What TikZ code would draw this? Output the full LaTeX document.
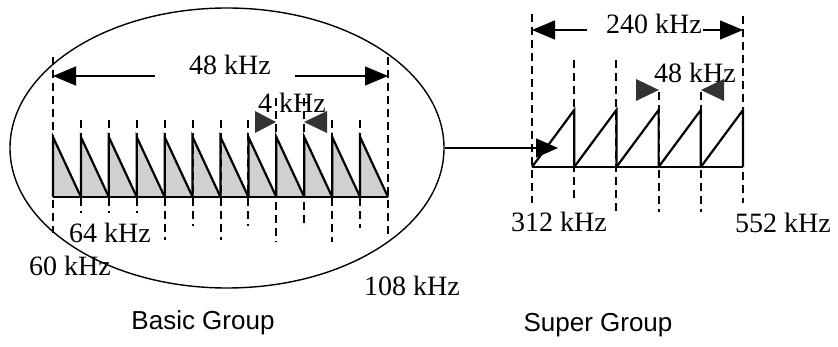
\documentclass[tikz,border=0pt]{standalone}
\usepackage{fontspec}
\setmainfont{Liberation Serif}
\setsansfont{Liberation Sans}
\usetikzlibrary{shapes.geometric,arrows.meta}
\definecolor{headcol}{HTML}{333333}
\definecolor{fillcol}{HTML}{D0D0D0}
\tikzset{
  lbl/.style={inner sep=0pt, font=\fontsize{28}{32}\selectfont},
  grp/.style={inner sep=0pt, font=\sffamily\fontsize{26}{30}\selectfont},
  dsh/.style={line width=2pt, dash pattern=on 8pt off 5pt},
  solid line/.style={line width=2.2pt},
  dimarrow/.style={line width=1.4pt, -{Triangle[length=23pt,width=19pt]}, draw=black, fill=headcol},
  headtri/.style={fill=headcol},
}
\begin{document}
\begin{tikzpicture}[x=1pt,y=-1pt]
\useasboundingbox (0,0) rectangle (838,347);
\fill[white] (0,0) rectangle (838,347);

% ---------- Basic group ----------
\node[draw, ellipse, line width=1.4pt, minimum width=434pt, minimum height=280pt, inner sep=0pt] (bg) at (227,148) {};

% triangles
\foreach \k in {0,...,11}{
  \pgfmathsetmacro{\xa}{53+27.917*\k}
  \pgfmathsetmacro{\xb}{53+27.917*(\k+1)}
  \fill[fillcol] (\xa,197) -- (\xa,137) -- (\xb,197) -- cycle;
  \draw[solid line, line join=miter] (\xa,197) -- (\xa,137) -- (\xb,197);
}
\draw[solid line] (53,197) -- (388,197);

% dashed guide lines (index, top, bottom)
\foreach \k/\t/\b in {0/57/233, 1/120/213, 2/120/213, 3/120/213, 4/120/240, 5/120/226,
                     6/120/240, 7/120/226, 8/98/242, 9/98/228, 10/120/242, 11/120/228, 12/57/237}{
  \pgfmathsetmacro{\xx}{53+27.917*\k}
  \draw[dsh] (\xx,\t) -- (\xx,\b);
}

% 48 kHz dimension
\node[lbl] (w48) at (230,65) {48 kHz};
\coordinate (w48l) at (155,76);
\coordinate (w48r) at (295,76);
\coordinate (b0) at (53,76);
\coordinate (b12) at (388,76);
\draw[dimarrow] (w48l) -- (b0);
\draw[dimarrow] (w48r) -- (b12);

% 4 kHz
\node[lbl] (w4) at (292,103) {4 kHz};
\fill[headtri] (255,111) -- (276,122) -- (255,133) -- cycle;
\fill[headtri] (327,111) -- (304,122) -- (327,133) -- cycle;

\node[lbl] (f64) at (110,233) {64 kHz};
\node[lbl] (f60) at (70,266) {60 kHz};
\node[lbl] (f108) at (412,286) {108 kHz};
\node[grp] (basic) at (203,323) {Basic Group};

% ---------- Super group ----------
\foreach \k in {0,...,4}{
  \pgfmathsetmacro{\xa}{532+42.2*\k}
  \pgfmathsetmacro{\xb}{532+42.2*(\k+1)}
  \draw[solid line, line join=miter] (\xa,167) -- (\xb,110) -- (\xb,167);
}
\draw[solid line] (532,167) -- (743,167);

\foreach \k/\t/\b in {0/14/203, 1/60/200, 2/60/211, 3/92/212, 4/92/212, 5/16/203}{
  \pgfmathsetmacro{\xx}{532+42.2*\k}
  \draw[dsh] (\xx,\t) -- (\xx,\b);
}

% 240 kHz dimension
\node[lbl] (w240) at (654,24) {240 kHz};
\coordinate (s240l) at (587,30);
\coordinate (s240r) at (703,30);
\coordinate (s0) at (532,30);
\coordinate (s5) at (743,30);
\draw[dimarrow] (s240l) -- (s0);
\draw[dimarrow] (s240r) -- (s5);

% 48 kHz (super group)
\node[lbl] (w48s) at (695,73) {48 kHz};
\fill[headtri] (636,79) -- (658.8,90) -- (636,101) -- cycle;
\fill[headtri] (724,79) -- (701,90) -- (724,101) -- cycle;

\node[lbl] (f312) at (559,222) {312 kHz};
\node[lbl] (f552) at (783,223) {552 kHz};
\node[grp] (super) at (598,325) {Super Group};

% connector from basic group to super group
\coordinate (sgin) at (558,148);
\draw[line width=1.4pt, -{Triangle[length=22pt,width=19pt]}, fill=headcol] (bg.east) -- (sgin);
\end{tikzpicture}
\end{document}
